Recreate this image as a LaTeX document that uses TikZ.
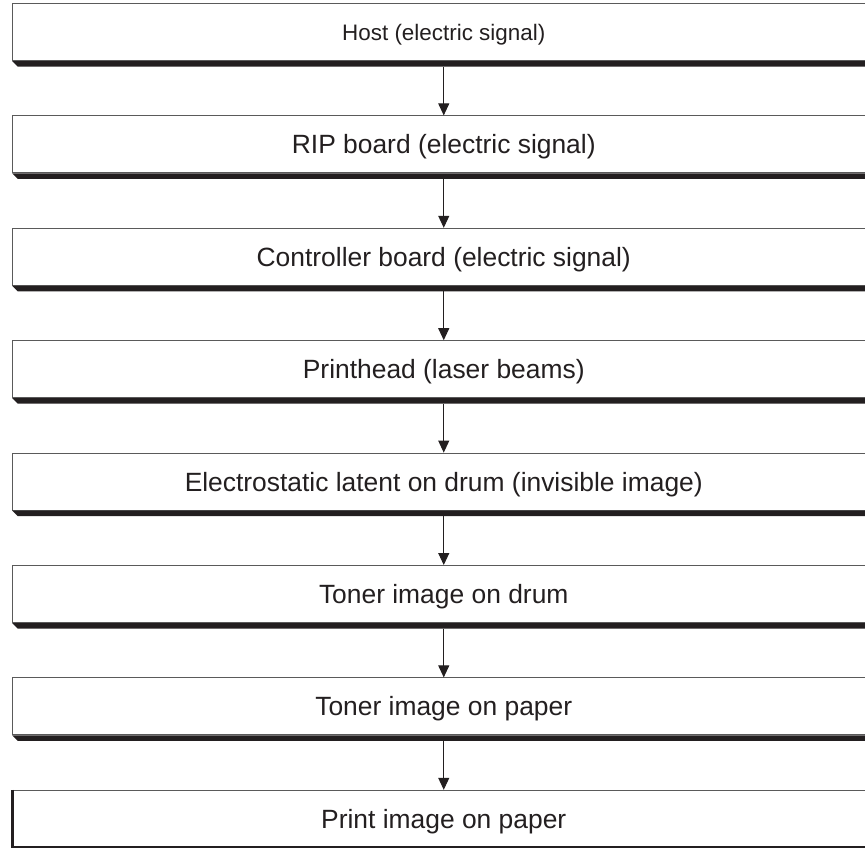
\documentclass[tikz,border=0pt]{standalone}
\usepackage{fontspec}
\setmainfont{Liberation Sans}
\usetikzlibrary{arrows.meta, positioning}
\definecolor{cink}{HTML}{231F20}
\definecolor{cedge}{HTML}{5A5A5A}
\tikzset{
  every picture/.style={x=1bp, y=-1bp},
  stage/.style={draw=cedge, line width=1bp, fill=white, minimum width=862bp, minimum height=57bp,
    inner sep=0pt, text=cink},
  bigtext/.style={font=\fontsize{26.5}{30}\selectfont, text height=19bp, text depth=0pt},
  smalltext/.style={font=\fontsize{22.5}{26}\selectfont, text height=16bp, text depth=0pt},
  shade/.style={fill=cink, draw=none},
  arrow/.style={-{Triangle[length=12bp, width=11bp]}, draw=cink, line width=1bp},
}

\begin{document}
\begin{tikzpicture}
  \useasboundingbox (0,0) rectangle (865,848);
  \clip (0,0) rectangle (865,848);
  % ---------- stages ----------
  \foreach \n/\st [count=\i] in {Host (electric signal)/smalltext, RIP board (electric signal)/bigtext,
      Controller board (electric signal)/bigtext, Printhead (laser beams)/bigtext,
      Electrostatic latent on drum (invisible image)/bigtext, Toner image on drum/bigtext,
      Toner image on paper/bigtext, Print image on paper/bigtext} {
    \node[stage, \st] (s\i) at (443.75, {32 + 112.4*(\i-1)}) {\n};
  }
  % drop shadows under the first seven boxes
  \foreach \i in {1,...,7}
    \fill[shade] (s\i.south west) -- ++(5.5,5.5) -- ([yshift=-5.5bp]s\i.south east) -- (s\i.south east) -- cycle;
  % heavier frame for the last box
  \draw[cink, line width=3bp] (s8.north west) -- (s8.south west) -- (s8.south east);
  % ---------- arrows ----------
  \foreach \i [evaluate=\i as \j using int(\i+1)] in {1,...,7}
    \draw[arrow] ([yshift=-5.5bp]s\i.south) -- (s\j.north);
\end{tikzpicture}
\end{document}
